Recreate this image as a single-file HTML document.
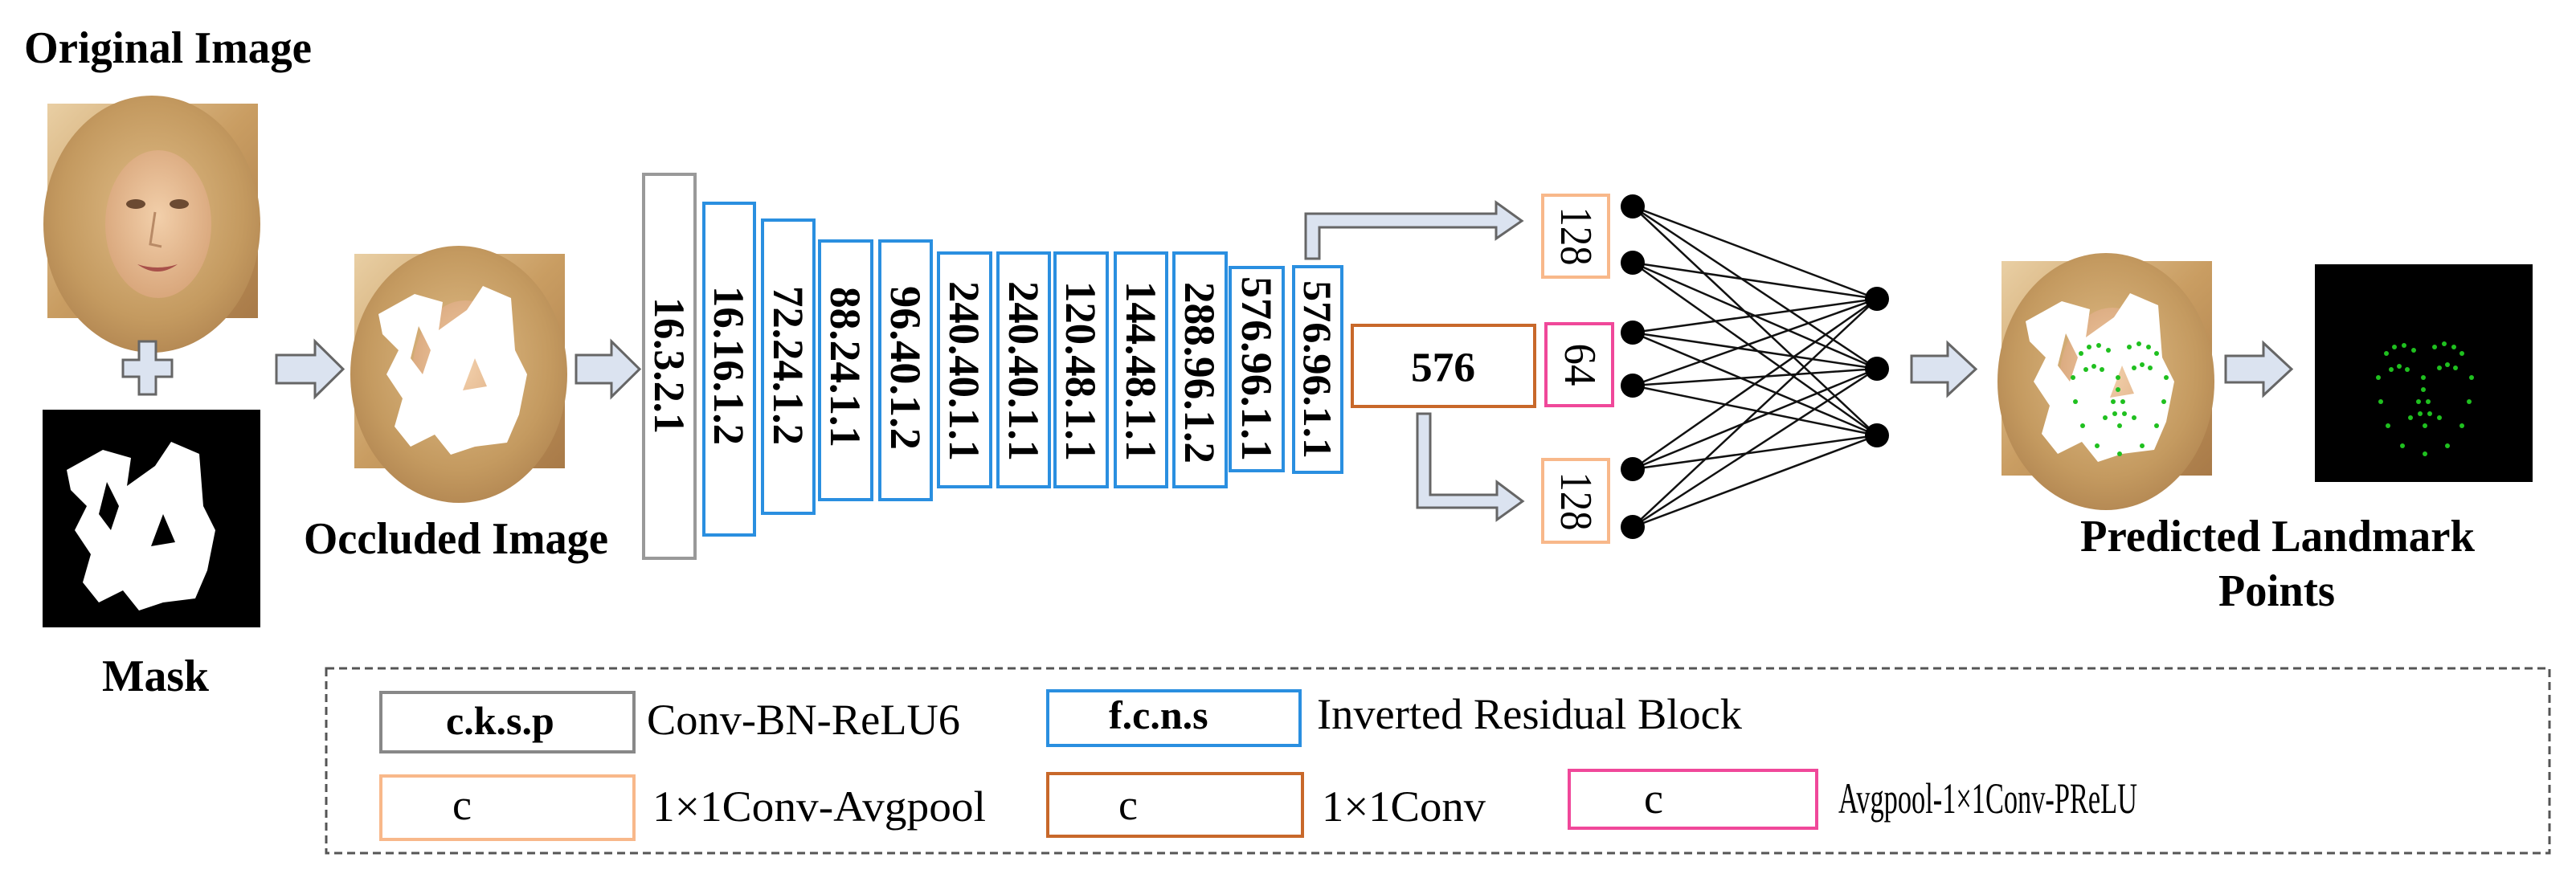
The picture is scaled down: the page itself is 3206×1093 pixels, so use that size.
<!DOCTYPE html>
<html><head><meta charset="utf-8"><style>html,body{margin:0;padding:0;background:#fff}svg{display:block}</style></head>
<body>
<svg xmlns="http://www.w3.org/2000/svg" width="3206" height="1093" viewBox="0 0 3206 1093" font-family="'Liberation Serif', serif">
<defs>
<linearGradient id="bg" x1="0" y1="0" x2="1" y2="1"><stop offset="0" stop-color="#e9cfa4"/><stop offset="0.5" stop-color="#c99d62"/><stop offset="1" stop-color="#a87a48"/></linearGradient>
<radialGradient id="hair" cx="50%" cy="45%" r="60%"><stop offset="0" stop-color="#e0bd88"/><stop offset="0.7" stop-color="#c49a60"/><stop offset="1" stop-color="#b08450"/></radialGradient>
<radialGradient id="skin" cx="50%" cy="45%" r="55%"><stop offset="0" stop-color="#f2cfaa"/><stop offset="1" stop-color="#d9a77c"/></radialGradient>
<g id="face">
<rect x="0" y="0" width="262" height="267" fill="url(#bg)"/>
<ellipse cx="130" cy="150" rx="135" ry="160" fill="url(#hair)"/>
<ellipse cx="138" cy="150" rx="66" ry="92" fill="url(#skin)"/>
<ellipse cx="110" cy="125" rx="12" ry="6" fill="#6b4a32"/>
<ellipse cx="164" cy="125" rx="12" ry="6" fill="#6b4a32"/>
<path d="M134 135 L128 175 L142 178" fill="none" stroke="#b88a66" stroke-width="3"/>
<path d="M112 200 Q137 218 162 200 Q137 208 112 200Z" fill="#a8504a"/>
</g>
<g id="blobs">
<path d="M30 75 L75 50 L110 60 L105 95 L140 70 L160 40 L195 55 L200 120 L215 150 L205 200 L190 235 L150 240 L120 250 L100 225 L70 240 L50 215 L60 180 L40 150 L55 120 L35 100Z M80 90 L70 130 L85 150 L95 120Z M150 130 L135 170 L165 165Z" fill="#fff" fill-rule="evenodd"/>
</g>
</defs>

<text x="30" y="78" font-size="56" font-weight="bold" textLength="358" lengthAdjust="spacingAndGlyphs">Original Image</text>
<use href="#face" x="59" y="129"/>
<path d="M173 425 h21 v23 h20 v21 h-20 v22 h-21 v-22 h-20 v-21 h20z" fill="#dbe3f0" stroke="#666" stroke-width="3"/>
<rect x="53" y="510" width="271" height="271" fill="#000"/>
<use href="#blobs" x="53" y="510"/>
<text x="127" y="860" font-size="56" font-weight="bold" textLength="133" lengthAdjust="spacingAndGlyphs">Mask</text>

<g fill="#dbe3f0" stroke="#666" stroke-width="3">
<path d="M344 442 h48 v-17 l35 34.5 l-35 34.5 v-17 h-48z"/>
<path d="M717 442 h44 v-17 l35 34.5 l-35 34.5 v-17 h-44z"/>
<path d="M2379 443 h45 v-16 l35 32.5 l-35 32.5 v-16 h-45z"/>
<path d="M2770 443 h47 v-16 l35 32.5 l-35 32.5 v-16 h-47z"/>
<path d="M1625 322 V266 H1862 V252 L1894 275 L1862 297 V283 H1642 V322z"/>
<path d="M1764 515 V632 H1863 V647 L1895 624 L1863 600 V616 H1780 V515z"/>
</g>

<use href="#face" x="441" y="316"/>
<use href="#blobs" x="441" y="316"/>
<text x="378" y="689" font-size="56" font-weight="bold" textLength="379" lengthAdjust="spacingAndGlyphs">Occluded Image</text>

<g fill="#fff" stroke-width="4">
<rect x="801" y="217" width="64" height="478" stroke="#999"/>
<g stroke="#2a8fe0">
<rect x="876" y="253" width="63" height="413"/>
<rect x="949" y="274" width="64" height="365"/>
<rect x="1020" y="300" width="65" height="322"/>
<rect x="1095" y="300" width="64" height="322"/>
<rect x="1168" y="315" width="65" height="291"/>
<rect x="1242" y="315" width="64" height="291"/>
<rect x="1313" y="315" width="65" height="291"/>
<rect x="1388" y="315" width="64" height="291"/>
<rect x="1461" y="315" width="65" height="291"/>
<rect x="1531" y="333" width="66" height="253"/>
<rect x="1610" y="332" width="60" height="256"/>
</g>
<rect x="1920" y="243" width="82" height="102" stroke="#f8b88a"/>
<rect x="1920" y="572" width="82" height="103" stroke="#f8b88a"/>
<rect x="1683" y="405" width="227" height="101" stroke="#c8682a"/>
<rect x="1924" y="403" width="83" height="102" stroke="#f0489a"/>
</g>
<g font-size="54" font-weight="bold" text-anchor="middle" dominant-baseline="central">
<text transform="translate(833,455) rotate(90)" textLength="170" lengthAdjust="spacingAndGlyphs">16.3.2.1</text>
<text transform="translate(907,455) rotate(90)" textLength="198" lengthAdjust="spacingAndGlyphs">16.16.1.2</text>
<text transform="translate(981,455) rotate(90)" textLength="198" lengthAdjust="spacingAndGlyphs">72.24.1.2</text>
<text transform="translate(1052,457) rotate(90)" textLength="200" lengthAdjust="spacingAndGlyphs">88.24.1.1</text>
<text transform="translate(1127,458) rotate(90)" textLength="204" lengthAdjust="spacingAndGlyphs">96.40.1.2</text>
<text transform="translate(1200,462) rotate(90)" textLength="224" lengthAdjust="spacingAndGlyphs">240.40.1.1</text>
<text transform="translate(1274,462) rotate(90)" textLength="224" lengthAdjust="spacingAndGlyphs">240.40.1.1</text>
<text transform="translate(1345,462) rotate(90)" textLength="224" lengthAdjust="spacingAndGlyphs">120.48.1.1</text>
<text transform="translate(1420,462) rotate(90)" textLength="224" lengthAdjust="spacingAndGlyphs">144.48.1.1</text>
<text transform="translate(1493,464) rotate(90)" textLength="226" lengthAdjust="spacingAndGlyphs">288.96.1.2</text>
<text transform="translate(1564,459) rotate(90)" textLength="230" lengthAdjust="spacingAndGlyphs">576.96.1.1</text>
<text transform="translate(1640,460) rotate(90)" textLength="222" lengthAdjust="spacingAndGlyphs" font-size="50">576.96.1.1</text>
<text x="1796" y="458" font-size="52" textLength="80" lengthAdjust="spacingAndGlyphs">576</text>
</g>
<g font-size="56" text-anchor="middle" dominant-baseline="central">
<text transform="translate(1961,294) rotate(90)" textLength="73" lengthAdjust="spacingAndGlyphs">128</text>
<text transform="translate(1961,624) rotate(90)" textLength="73" lengthAdjust="spacingAndGlyphs">128</text>
<text transform="translate(1966,454) rotate(90)" textLength="53" lengthAdjust="spacingAndGlyphs">64</text>
</g>

<g stroke="#111" stroke-width="2.5">
<path d="M2032 257 L2336 372 M2032 257 L2336 459 M2032 257 L2336 542
M2032 327 L2336 372 M2032 327 L2336 459 M2032 327 L2336 542
M2032 414 L2336 372 M2032 414 L2336 459 M2032 414 L2336 542
M2032 480 L2336 372 M2032 480 L2336 459 M2032 480 L2336 542
M2032 584 L2336 372 M2032 584 L2336 459 M2032 584 L2336 542
M2032 656 L2336 372 M2032 656 L2336 459 M2032 656 L2336 542"/>
</g>
<g fill="#000">
<circle cx="2032" cy="257" r="15"/><circle cx="2032" cy="327" r="15"/><circle cx="2032" cy="414" r="15"/>
<circle cx="2032" cy="480" r="15"/><circle cx="2032" cy="584" r="15"/><circle cx="2032" cy="656" r="15"/>
<circle cx="2336" cy="372" r="15"/><circle cx="2336" cy="459" r="15"/><circle cx="2336" cy="542" r="15"/>
</g>

<use href="#face" x="2491" y="325"/>
<use href="#blobs" x="2491" y="325"/>
<g fill="#1fc01f" id="dots">
<circle cx="2590" cy="440" r="3"/><circle cx="2600" cy="432" r="3"/><circle cx="2612" cy="430" r="3"/><circle cx="2624" cy="436" r="3"/>
<circle cx="2650" cy="432" r="3"/><circle cx="2662" cy="428" r="3"/><circle cx="2674" cy="432" r="3"/><circle cx="2684" cy="440" r="3"/>
<circle cx="2596" cy="460" r="3"/><circle cx="2606" cy="456" r="3"/><circle cx="2616" cy="460" r="3"/>
<circle cx="2656" cy="458" r="3"/><circle cx="2666" cy="454" r="3"/><circle cx="2676" cy="458" r="3"/>
<circle cx="2636" cy="470" r="3"/><circle cx="2636" cy="485" r="3"/><circle cx="2630" cy="500" r="3"/><circle cx="2642" cy="500" r="3"/>
<circle cx="2620" cy="520" r="3"/><circle cx="2632" cy="515" r="3"/><circle cx="2644" cy="515" r="3"/><circle cx="2656" cy="520" r="3"/><circle cx="2638" cy="530" r="3"/>
<circle cx="2580" cy="470" r="3"/><circle cx="2583" cy="500" r="3"/><circle cx="2592" cy="530" r="3"/><circle cx="2610" cy="555" r="3"/><circle cx="2638" cy="565" r="3"/>
<circle cx="2666" cy="555" r="3"/><circle cx="2684" cy="530" r="3"/><circle cx="2693" cy="500" r="3"/><circle cx="2696" cy="470" r="3"/>
</g>
<rect x="2881" y="329" width="271" height="271" fill="#000"/>
<use href="#dots" transform="translate(380,0)"/>
<text x="2589" y="686" font-size="56" font-weight="bold" textLength="491" lengthAdjust="spacingAndGlyphs">Predicted Landmark</text>
<text x="2761" y="754" font-size="56" font-weight="bold" textLength="145" lengthAdjust="spacingAndGlyphs">Points</text>

<rect x="406" y="832" width="2767" height="230" fill="none" stroke="#555" stroke-width="3" stroke-dasharray="10 6"/>
<g fill="#fff" stroke-width="4">
<rect x="474" y="862" width="315" height="74" stroke="#888"/>
<rect x="1304" y="860" width="314" height="68" stroke="#2a8fe0"/>
<rect x="474" y="966" width="315" height="79" stroke="#f8b88a"/>
<rect x="1304" y="963" width="317" height="78" stroke="#c8682a"/>
<rect x="1953" y="959" width="308" height="72" stroke="#f0489a"/>
</g>
<g font-size="54">
<text x="555" y="914" font-weight="bold" font-size="50">c.k.s.p</text>
<text x="805" y="914" textLength="390" lengthAdjust="spacingAndGlyphs">Conv-BN-ReLU6</text>
<text x="1380" y="907" font-weight="bold" font-size="50">f.c.n.s</text>
<text x="1639" y="907" textLength="529" lengthAdjust="spacingAndGlyphs">Inverted Residual Block</text>
<text x="563" y="1020">c</text>
<text x="812" y="1022" textLength="415" lengthAdjust="spacingAndGlyphs">1×1Conv-Avgpool</text>
<text x="1392" y="1020">c</text>
<text x="1645" y="1022" textLength="204" lengthAdjust="spacingAndGlyphs">1×1Conv</text>
<text x="2046" y="1012">c</text>
<text x="2288" y="1012" textLength="372" lengthAdjust="spacingAndGlyphs">Avgpool-1×1Conv-PReLU</text>
</g>
</svg>
</body></html>
